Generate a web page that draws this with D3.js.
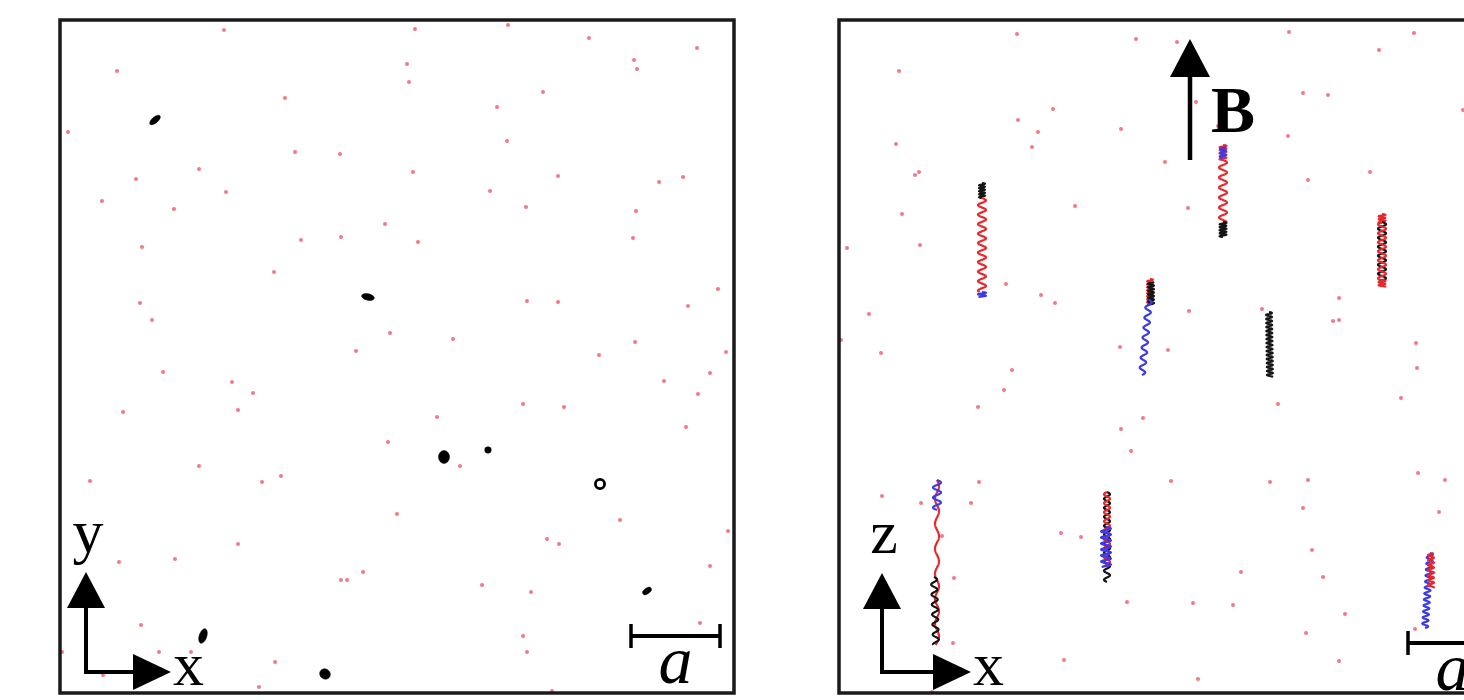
<!DOCTYPE html>
<html>
<head>
<meta charset="utf-8">
<script src="https://cdn.jsdelivr.net/npm/d3@7"></script>
<style>
  body { margin: 0; background: #fff; }
  svg { display: block; }
</style>
</head>
<body>
<script>
// ion positions, panel 1 (x-y plane), px from the frame's top-left corner
const panel1Dots = [
  [164,10],[355,9],[57,51],[347,44],[349,62],[225,78],[8,112],[235,132],[280,134],[353,152],
  [139,149],[76,159],[166,172],[42,181],[114,189],[325,204],[241,220],[281,217],[358,222],[82,227],
  [214,252],[80,283],[92,300],[330,313],[296,331],
  [448,5],[529,18],[637,28],[574,40],[577,49],[483,72],[437,87],[447,121],[498,156],[599,162],
  [623,157],[430,171],[466,187],[576,191],[573,218],[658,269],[467,281],[498,282],[628,286],[393,319],
  [575,322],[539,335],[666,332],
  [103,352],[172,362],[193,373],[178,390],[63,392],[377,397],[328,422],[139,446],[30,461],[202,462],
  [221,456],[337,494],[178,524],[59,542],[115,539],[281,560],[287,560],[303,552],[81,605],[2,632],
  [99,632],[131,632],[215,642],[43,655],[199,667],
  [650,353],[604,361],[638,374],[463,384],[504,387],[626,407],[400,446],[560,500],[668,511],[487,519],
  [499,524],[650,546],[422,565],[471,572],[640,603],[463,616],[467,632],[492,671]
];

// projected orbits seen along B: [x, y, rx, ry, angle, ring]
const panel1Orbits = [
  [95,100,6.5,3,-40,0],
  [308,277,6.5,3.2,12,0],
  [384,437,5.5,6.5,0,0],
  [428,430,3.3,3.3,0,0],
  [540,464,6,6,0,1],
  [587,571,5,2.8,-35,0],
  [143,616,3.8,7.5,18,0],
  [265,654,5.5,5,35,0]
];

// ion positions, panel 2 (x-z plane)
const panel2Dots = [
  [178,14],[297,19],[60,51],[214,89],[179,100],[199,112],[282,109],[193,127],[57,124],[76,155],
  [80,152],[236,186],[63,194],[8,228],[81,225],[167,264],[202,275],[216,283],[30,294],[2,320],
  [42,333],[281,327],
  [338,22],[450,12],[540,30],[575,13],[464,73],[489,75],[357,82],[379,106],[449,116],[624,90],
  [326,142],[531,152],[469,160],[349,188],[350,291],[423,289],[500,278],[494,301],[500,300],[329,330],
  [577,323],
  [173,350],[165,370],[139,387],[304,398],[282,409],[292,431],[140,462],[43,476],[82,483],[132,483],
  [103,516],[222,513],[242,517],[115,558],[288,582],[114,623],[225,640],[93,672],
  [578,348],[562,378],[439,384],[332,461],[431,462],[469,460],[579,453],[606,460],[464,488],[600,492],
  [473,530],[402,552],[484,557],[354,583],[394,585],[506,594],[467,613],[576,609],[500,641],[359,659]
];

// helical tracks: [x0, y0, x1, y1, amplitude, period, phase, color]
const panel2Tracks = [
  [143,163,143,178,3,3,0,"black"],
  [143,178,143,272,4,9.5,0,"red"],
  [143,272,143,277,4,3,0,"blue"],

  [384,125,384,140,3.5,3,0,"red"],
  [384,127,384,138,3,4,1.5,"blue"],
  [384,140,384,202,4,10,0,"red"],
  [384,202,384,217,3.5,3,0,"black"],

  [543,194,543,203,3.5,3,0,"red"],
  [543,202,543,262,4,9,0,"black"],
  [543,202,543,262,4,9,3.14,"red"],
  [543,260,543,267,3.5,3,0,"red"],

  [311,259,311,285,3,3,0,"red"],
  [312,262,312,285,3,3.5,1.5,"black"],
  [310,280,303,355,3,10,0,"blue"],

  [430,292,431,357,3,4,0,"black"],

  [98,460,98,625,2,25,0,"red"],
  [98,460,98,490,4,10,0,"blue"],
  [95,557,97,625,3,10,0,"black"],

  [268,472,268,562,3,9,0,"black"],
  [268,472,268,545,3,9,3.14,"red"],
  [267,507,267,547,5,6,0,"blue"],

  [591,533,586,608,3,6,0,"blue"],
  [592,533,592,568,3,5,2,"red"]
];

const trackColors = { red: "#e8282c", blue: "#3b3bea", black: "#151515" };
const dotColor = "#f27a86";

const width = 1464, height = 700;
const svg = d3.select("body").append("svg")
  .attr("width", width)
  .attr("height", height);

function arrowHead(g, tipX, tipY, dir, len, half) {
  // dir: "up" or "right"
  let pts;
  if (dir === "up") pts = [[tipX, tipY], [tipX - half, tipY + len], [tipX + half, tipY + len]];
  else pts = [[tipX, tipY], [tipX - len, tipY - half], [tipX - len, tipY + half]];
  g.append("path").attr("d", "M" + pts.join("L") + "Z").attr("fill", "#000");
}

function drawFrame(g, x, y, w, h) {
  g.append("rect")
    .attr("x", x).attr("y", y).attr("width", w).attr("height", h)
    .attr("fill", "none").attr("stroke", "#1a1a1a").attr("stroke-width", 3.5);
}

function drawDots(g, dots, xs, ys) {
  g.selectAll("circle.ion")
    .data(dots)
    .enter()
    .append("circle")
    .attr("class", "ion")
    .attr("cx", d => xs(d[0]))
    .attr("cy", d => ys(d[1]))
    .attr("r", 2)
    .attr("fill", dotColor);
}

function drawAxes(g, ox, oy, vTip, hTip, vLabel, hLabel) {
  g.append("line").attr("x1", ox).attr("y1", oy).attr("x2", ox).attr("y2", vTip + 30)
    .attr("stroke", "#000").attr("stroke-width", 4);
  g.append("line").attr("x1", ox - 2).attr("y1", oy).attr("x2", hTip - 30).attr("y2", oy)
    .attr("stroke", "#000").attr("stroke-width", 4);
  arrowHead(g, ox, vTip, "up", 36, 19);
  arrowHead(g, hTip, oy, "right", 38, 18);
  g.append("text").attr("x", ox + 2).attr("y", vTip - 20)
    .attr("text-anchor", "middle")
    .style("font-family", "'Liberation Serif', serif").style("font-size", "62px")
    .text(vLabel);
  g.append("text").attr("x", hTip + 2).attr("y", oy + 13)
    .style("font-family", "'Liberation Serif', serif").style("font-size", "62px")
    .text(hLabel);
}

function drawScaleBar(g, x, y, len) {
  g.append("line").attr("x1", x).attr("y1", y).attr("x2", x + len).attr("y2", y)
    .attr("stroke", "#000").attr("stroke-width", 4);
  [x, x + len].forEach(t => {
    g.append("line").attr("x1", t).attr("y1", y - 12).attr("x2", t).attr("y2", y + 12)
      .attr("stroke", "#000").attr("stroke-width", 3.5);
  });
  g.append("text").attr("x", x + len / 2).attr("y", y + 47)
    .attr("text-anchor", "middle")
    .style("font-family", "'Liberation Serif', serif").style("font-style", "italic")
    .style("font-size", "68px")
    .text("a");
}

// ---- panel 1 : x-y plane ----
const p1 = { left: 60, top: 20, w: 674, h: 673 };
const x1 = d3.scaleLinear().domain([0, p1.w]).range([p1.left, p1.left + p1.w]);
const y1 = d3.scaleLinear().domain([0, p1.h]).range([p1.top, p1.top + p1.h]);
const g1 = svg.append("g");

drawDots(g1, panel1Dots, x1, y1);

g1.selectAll("ellipse.orbit")
  .data(panel1Orbits)
  .enter()
  .append("ellipse")
  .attr("class", "orbit")
  .attr("transform", d => `translate(${x1(d[0])},${y1(d[1])}) rotate(${d[4]})`)
  .attr("rx", d => d[5] ? d[2] - 1.4 : d[2])
  .attr("ry", d => d[5] ? d[3] - 1.4 : d[3])
  .attr("fill", d => d[5] ? "none" : "#000")
  .attr("stroke", "#000")
  .attr("stroke-width", d => d[5] ? 2.8 : 0.5);

drawAxes(g1, 86, 672, 572, 171, "y", "x");
drawScaleBar(g1, 631, 636, 89);
drawFrame(g1, p1.left, p1.top, p1.w, p1.h);

// ---- panel 2 : x-z plane ----
const p2 = { left: 839, top: 20, w: 640, h: 673 };
const x2 = d3.scaleLinear().domain([0, p2.w]).range([p2.left, p2.left + p2.w]);
const y2 = d3.scaleLinear().domain([0, p2.h]).range([p2.top, p2.top + p2.h]);
const g2 = svg.append("g");

drawDots(g2, panel2Dots, x2, y2);

const line = d3.line().x(d => x2(d[0])).y(d => y2(d[1])).curve(d3.curveLinear);
function trackPoints(t) {
  const [xa, ya, xb, yb, amp, period, phase] = t;
  const pts = [];
  const n = Math.max(2, Math.ceil((yb - ya) / 0.4));
  for (let i = 0; i <= n; i++) {
    const f = i / n;
    const yy = ya + (yb - ya) * f;
    const xx = xa + (xb - xa) * f + amp * Math.sin(2 * Math.PI * (yy - ya) / period + phase);
    pts.push([xx, yy]);
  }
  return pts;
}

g2.selectAll("path.track")
  .data(panel2Tracks)
  .enter()
  .append("path")
  .attr("class", "track")
  .attr("d", d => line(trackPoints(d)))
  .attr("fill", "none")
  .attr("stroke", d => trackColors[d[7]])
  .attr("stroke-width", 2.2)
  .attr("stroke-linejoin", "round");

// B field arrow
g2.append("line").attr("x1", 1190).attr("y1", 160).attr("x2", 1190).attr("y2", 74)
  .attr("stroke", "#000").attr("stroke-width", 4.5);
arrowHead(g2, 1190, 39, "up", 38, 20);
g2.append("text").attr("x", 1211).attr("y", 132)
  .style("font-family", "'Liberation Serif', serif").style("font-weight", "bold")
  .style("font-size", "66px")
  .text("B");

drawAxes(g2, 882, 672, 573, 971, "z", "x");
drawScaleBar(g2, 1408, 643, 89);
drawFrame(g2, p2.left, p2.top, p2.w, p2.h);
</script>
</body>
</html>
